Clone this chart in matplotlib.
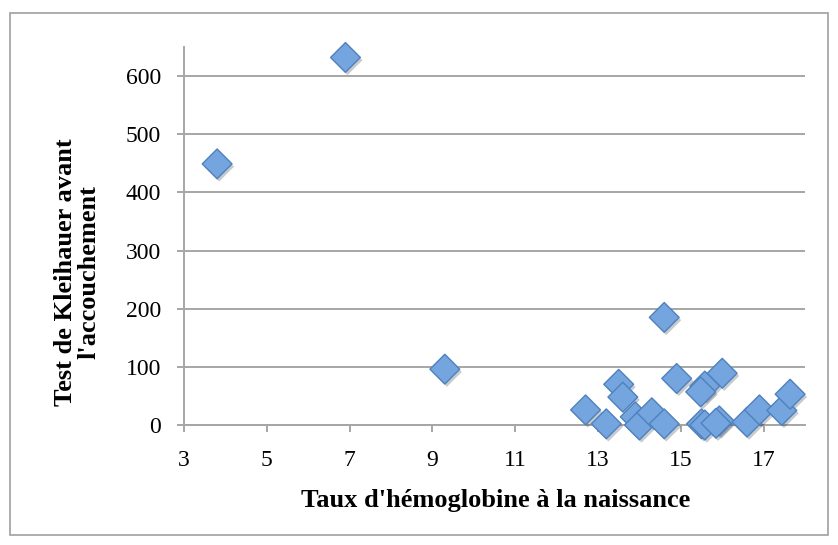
import matplotlib
matplotlib.use('Agg')
import matplotlib.pyplot as plt
import matplotlib.patheffects as pe
from matplotlib.patches import Rectangle

# Taux d'hémoglobine à la naissance vs test de Kleihauer
hb = [3.8, 6.9, 9.3, 12.7, 13.2, 13.5, 13.6, 13.9, 14.0, 14.3, 14.6, 14.6,
      14.9, 15.5, 15.58, 15.48, 15.58, 16.0, 15.93, 15.85, 16.6, 16.9, 17.44, 17.64]
kleihauer = [449, 632, 96, 26, 2, 70, 48, 14, 0, 21, 2, 185,
             80, 2, 67, 57, 0, 89, 7, 3, 5, 26, 25, 53]

x_ticks = [3, 5, 7, 9, 11, 13, 15, 17]
y_ticks = [0, 100, 200, 300, 400, 500, 600]

plt.rcParams['font.family'] = ['Liberation Serif', 'DejaVu Serif']

W, H = 838, 545
fig = plt.figure(figsize=(W / 100, H / 100), dpi=100)
ax = fig.add_axes([184 / W, 1 - 425 / H, (805 - 184) / W, (425 - 47) / H])

grid_c = '#a6a6a6'
ax.set_xlim(3, 18)
ax.set_ylim(0, 650)
ax.set_xticks(x_ticks)
ax.set_yticks(y_ticks)
ax.yaxis.grid(True, color=grid_c, linewidth=1.4)
ax.set_axisbelow(True)

for s in ['top', 'right']:
    ax.spines[s].set_visible(False)
for s in ['left', 'bottom']:
    ax.spines[s].set_color(grid_c)
    ax.spines[s].set_linewidth(1.4)

ax.tick_params(axis='both', colors=grid_c, labelcolor='black', labelsize=17,
               length=5, width=1.4, direction='out')
ax.tick_params(axis='x', pad=13)
ax.tick_params(axis='y', pad=11.5)

sc = ax.scatter(hb, kleihauer, marker='D', s=230, facecolor='#74a5de',
                edgecolor='#4f81bd', linewidth=1.0, zorder=3, clip_on=False)
sc.set_path_effects([pe.SimplePatchShadow(offset=(1.5, -2), alpha=0.25), pe.Normal()])

fig.text(496 / W, 1 - 507 / H, "Taux d'hémoglobine à la naissance",
         fontsize=19, fontweight='bold', ha='center', va='baseline')
fig.text(77 / W, 1 - 272 / H, "Test de Kleihauer avant\nl'accouchement",
         fontsize=19, fontweight='bold', ha='center', va='center',
         rotation=90, multialignment='center', linespacing=1.0)

fig.patches.append(Rectangle((10 / W, 1 - 535 / H), 818 / W, 522 / H,
                             transform=fig.transFigure, fill=False,
                             edgecolor='#a0a0a0', linewidth=1.2))

fig.savefig('out.png', dpi=100)
